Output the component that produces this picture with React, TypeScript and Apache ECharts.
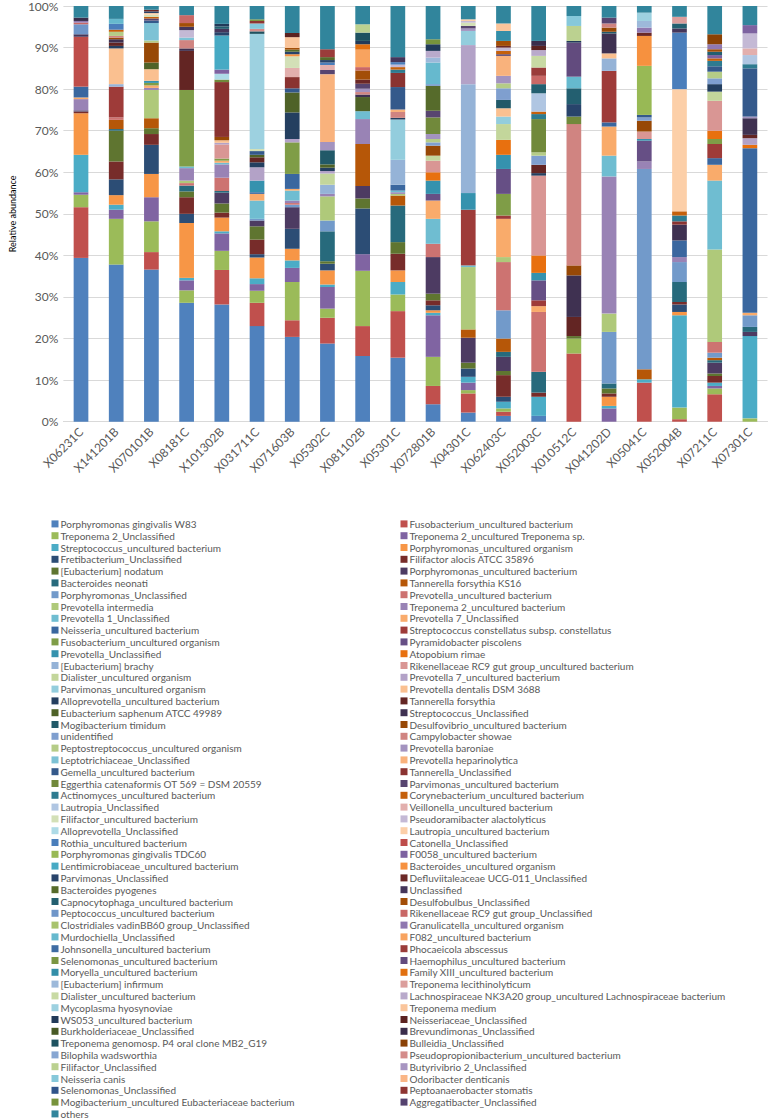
import React, { useEffect, useRef } from "react";
import * as echarts from "echarts";

// ---------- categories ----------
const SAMPLES = [
  "X06231C", "X141201B", "X070101B", "X08181C", "X101302B", "X031711C", "X071603B",
  "X05302C", "X081102B", "X05301C", "X072801B", "X04301C", "X062403C", "X052003C",
  "X010512C", "X041202D", "X05041C", "X052004B", "X07211C", "X07301C",
];

// ---------- series names (stack order, bottom to top) ----------
const TAXA = [
  "Porphyromonas gingivalis W83", "Fusobacterium_uncultured bacterium",
  "Treponema 2_Unclassified", "Treponema 2_uncultured Treponema sp.",
  "Streptococcus_uncultured bacterium", "Porphyromonas_uncultured organism",
  "Fretibacterium_Unclassified", "Filifactor alocis ATCC 35896",
  "[Eubacterium] nodatum", "Porphyromonas_uncultured bacterium",
  "Bacteroides neonati", "Tannerella forsythia KS16",
  "Porphyromonas_Unclassified", "Prevotella_uncultured bacterium",
  "Prevotella intermedia", "Treponema 2_uncultured bacterium",
  "Prevotella 1_Unclassified", "Prevotella 7_Unclassified",
  "Neisseria_uncultured bacterium", "Streptococcus constellatus subsp. constellatus",
  "Fusobacterium_uncultured organism", "Pyramidobacter piscolens",
  "Prevotella_Unclassified", "Atopobium rimae",
  "[Eubacterium] brachy", "Rikenellaceae RC9 gut group_uncultured bacterium",
  "Dialister_uncultured organism", "Prevotella 7_uncultured bacterium",
  "Parvimonas_uncultured organism", "Prevotella dentalis DSM 3688",
  "Alloprevotella_uncultured bacterium", "Tannerella forsythia",
  "Eubacterium saphenum ATCC 49989", "Streptococcus_Unclassified",
  "Mogibacterium timidum", "Desulfovibrio_uncultured bacterium",
  "unidentified", "Campylobacter showae",
  "Peptostreptococcus_uncultured organism", "Prevotella baroniae",
  "Leptotrichiaceae_Unclassified", "Prevotella heparinolytica",
  "Gemella_uncultured bacterium", "Tannerella_Unclassified",
  "Eggerthia catenaformis OT 569 = DSM 20559", "Parvimonas_uncultured bacterium",
  "Actinomyces_uncultured bacterium", "Corynebacterium_uncultured bacterium",
  "Lautropia_Unclassified", "Veillonella_uncultured bacterium",
  "Filifactor_uncultured bacterium", "Pseudoramibacter alactolyticus",
  "Alloprevotella_Unclassified", "Lautropia_uncultured bacterium",
  "Rothia_uncultured bacterium", "Catonella_Unclassified",
  "Porphyromonas gingivalis TDC60", "F0058_uncultured bacterium",
  "Lentimicrobiaceae_uncultured bacterium", "Bacteroides_uncultured organism",
  "Parvimonas_Unclassified", "Defluviitaleaceae UCG-011_Unclassified",
  "Bacteroides pyogenes", "Unclassified",
  "Capnocytophaga_uncultured bacterium", "Desulfobulbus_Unclassified",
  "Peptococcus_uncultured bacterium", "Rikenellaceae RC9 gut group_Unclassified",
  "Clostridiales vadinBB60 group_Unclassified", "Granulicatella_uncultured organism",
  "Murdochiella_Unclassified", "F082_uncultured bacterium",
  "Johnsonella_uncultured bacterium", "Phocaeicola abscessus",
  "Selenomonas_uncultured bacterium", "Haemophilus_uncultured bacterium",
  "Moryella_uncultured bacterium", "Family XIII_uncultured bacterium",
  "[Eubacterium] infirmum", "Treponema lecithinolyticum",
  "Dialister_uncultured bacterium", "Lachnospiraceae NK3A20 group_uncultured Lachnospiraceae bacterium",
  "Mycoplasma hyosynoviae", "Treponema medium",
  "WS053_uncultured bacterium", "Neisseriaceae_Unclassified",
  "Burkholderiaceae_Unclassified", "Brevundimonas_Unclassified",
  "Treponema genomosp. P4 oral clone MB2_G19", "Bulleidia_Unclassified",
  "Bilophila wadsworthia", "Pseudopropionibacterium_uncultured bacterium",
  "Filifactor_Unclassified", "Butyrivibrio 2_Unclassified",
  "Neisseria canis", "Odoribacter denticanis",
  "Selenomonas_Unclassified", "Peptoanaerobacter stomatis",
  "Mogibacterium_uncultured Eubacteriaceae bacterium", "Aggregatibacter_Unclassified",
  "others",
];

// ---------- per-sample abundances: [taxon number (1-based), % ] ----------
const S_X06231C = [[1,39.4],[2,12.2],[3,3.0],[4,0.6],[5,9.0],[6,10.0],[8,0.4],[10,0.3],[16,2.7],[18,0.4],[19,2.6],[56,12.0],[64,0.6],[67,2.4],[68,0.4],[70,0.4],[88,0.8],[101,2.8]];
const S_X141201B = [[1,37.8],[3,11.0],[4,2.2],[5,1.2],[6,2.3],[7,3.8],[8,4.3],[9,7.4],[11,0.4],[12,2.2],[14,0.6],[20,7.4],[25,0.6],[30,8.6],[31,0.6],[32,0.8],[34,0.8],[36,0.4],[38,0.4],[39,1.0],[48,0.5],[55,1.4],[71,1.2],[101,3.1]];
const S_X070101B = [[1,36.6],[2,4.2],[3,7.4],[4,5.8],[6,5.6],[7,7.0],[8,2.6],[9,1.4],[12,2.4],[15,6.8],[16,0.5],[18,0.6],[21,0.6],[23,0.5],[30,2.8],[33,1.6],[36,4.8],[39,0.5],[41,4.2],[43,0.6],[46,0.5],[48,0.4],[51,0.5],[54,0.4],[61,0.4],[62,0.4],[101,0.9]];
const S_X08181C = [[1,28.6],[3,3.0],[4,2.4],[5,0.6],[6,13.2],[7,2.2],[8,4.0],[9,1.4],[11,1.4],[14,0.6],[15,0.6],[16,3.0],[17,0.4],[21,18.4],[32,9.4],[34,0.6],[38,2.0],[41,0.6],[52,1.8],[64,0.8],[66,0.9],[68,1.9],[101,2.2]];
const S_X101302B = [[1,28.2],[2,8.3],[3,4.6],[4,4.2],[5,0.5],[6,3.3],[8,1.2],[9,2.2],[10,2.6],[11,0.4],[14,3.2],[16,3.2],[17,0.4],[18,0.5],[21,0.5],[26,3.4],[28,0.4],[30,0.6],[36,0.8],[44,13.2],[45,0.6],[53,1.4],[58,1.0],[59,8.2],[61,0.8],[64,0.8],[65,0.6],[85,0.6],[101,4.3]];
const S_X031711C = [[1,23.0],[2,5.6],[3,2.9],[4,1.6],[5,1.4],[6,5.0],[7,0.8],[8,3.5],[9,3.2],[10,1.4],[13,0.4],[17,4.4],[18,1.6],[19,0.4],[23,2.8],[28,3.2],[31,1.2],[32,1.2],[33,0.6],[43,0.9],[51,0.5],[83,27.7],[89,0.6],[92,0.6],[95,1.3],[98,0.6],[99,0.4],[101,3.2]];
const S_X071603B = [[1,20.4],[2,4.0],[3,9.2],[4,3.4],[5,1.8],[6,2.8],[7,4.8],[10,5.2],[13,0.6],[14,0.4],[16,0.6],[17,2.4],[18,0.4],[19,3.6],[21,7.6],[28,0.8],[31,6.4],[33,4.8],[43,1.0],[44,2.7],[50,2.2],[51,2.8],[60,0.5],[61,0.6],[63,0.5],[66,0.4],[84,2.6],[86,1.0],[101,6.5]];
const S_X05302C = [[1,18.8],[2,6.2],[3,2.2],[4,5.2],[5,0.6],[6,3.4],[7,1.6],[9,0.6],[11,7.2],[13,2.6],[15,5.8],[16,0.6],[25,2.2],[27,2.7],[28,0.6],[31,0.8],[33,0.8],[35,3.4],[40,2.0],[42,16.3],[46,1.0],[50,1.2],[55,0.6],[61,0.6],[63,0.7],[74,1.9],[101,10.4]];
const S_X081102B = [[1,15.8],[2,7.2],[3,13.3],[4,4.0],[7,11.0],[9,2.4],[10,3.0],[12,10.1],[16,6.0],[17,1.9],[33,3.4],[34,0.6],[38,0.6],[40,0.8],[46,1.2],[62,1.0],[66,2.2],[68,0.8],[72,4.2],[78,1.3],[85,0.8],[89,2.0],[93,2.0],[101,4.4]];
const S_X05301C = [[1,15.4],[2,11.2],[3,4.0],[5,3.0],[6,2.8],[8,4.0],[9,2.8],[11,8.8],[12,2.4],[15,0.4],[16,0.4],[17,0.4],[19,1.4],[25,6.0],[29,9.7],[31,0.4],[38,1.4],[42,0.6],[43,5.4],[44,3.4],[47,0.8],[48,0.6],[52,0.6],[55,0.6],[64,1.2],[101,12.3]];
const S_X072801B = [[1,4.2],[2,4.4],[3,7.0],[4,10.0],[5,0.6],[6,0.6],[7,1.2],[8,1.2],[9,1.6],[10,8.8],[14,3.2],[17,6.0],[18,4.4],[22,1.6],[23,3.2],[24,2.0],[26,2.8],[27,1.2],[36,2.4],[37,0.8],[39,0.8],[40,1.2],[45,4.0],[46,1.6],[63,6.0],[67,0.4],[71,5.2],[79,1.2],[82,1.6],[85,1.6],[99,1.2],[101,8.0]];
const S_X04301C = [[1,2.2],[2,4.6],[3,0.8],[4,1.8],[5,1.4],[7,2.0],[9,1.4],[10,6.0],[12,2.0],[15,15.0],[17,0.4],[20,13.4],[23,4.0],[25,26.2],[28,9.4],[29,3.4],[40,0.6],[46,0.6],[51,0.8],[52,0.4],[54,0.4],[101,3.2]];
const S_X062403C = [[1,1.4],[2,1.0],[3,0.8],[5,1.6],[7,1.2],[8,5.2],[9,1.0],[10,3.4],[11,1.2],[12,3.2],[13,6.8],[14,11.6],[15,1.2],[18,9.2],[20,0.8],[21,5.2],[22,6.0],[23,3.4],[24,3.6],[27,3.8],[29,1.8],[30,2.0],[35,2.0],[37,2.8],[39,1.2],[40,1.8],[42,4.8],[46,0.4],[48,0.8],[52,0.8],[62,0.4],[66,1.2],[77,2.4],[84,1.8],[101,4.2]];
const S_X052003C = [[1,1.4],[5,4.6],[8,1.0],[11,5.0],[14,14.4],[18,1.4],[20,1.4],[22,4.8],[23,1.8],[24,4.2],[26,19.2],[31,0.6],[32,2.0],[37,2.2],[39,0.8],[45,8.0],[47,1.2],[48,0.6],[49,4.4],[65,2.2],[68,2.0],[74,2.0],[81,2.8],[82,1.4],[86,1.0],[88,1.2],[101,8.4]];
const S_X010512C = [[2,16.4],[3,3.6],[9,0.6],[32,4.6],[34,10.0],[36,2.4],[38,34.0],[45,1.8],[61,3.0],[65,3.8],[71,2.8],[76,8.2],[85,0.4],[93,3.6],[95,2.4],[101,2.4]];
const S_X041202D = [[4,3.2],[5,0.6],[6,2.2],[8,0.8],[9,1.2],[11,1.2],[13,12.4],[15,4.4],[16,33.0],[17,5.0],[18,7.0],[19,1.0],[20,12.4],[25,3.0],[30,1.2],[34,4.8],[35,0.4],[36,1.0],[38,1.0],[46,1.4],[101,2.8]];
const S_X05041C = [[2,9.4],[5,0.8],[12,2.4],[13,48.2],[16,1.8],[22,5.0],[23,0.4],[26,1.8],[36,2.6],[37,0.8],[43,0.6],[57,11.8],[60,7.2],[62,0.8],[70,1.2],[79,1.6],[83,2.0],[101,1.6]];
const S_X052004B = [[2,0.6],[3,2.8],[5,22.2],[6,0.8],[7,1.8],[8,0.6],[11,4.8],[13,4.8],[16,1.2],[19,4.0],[34,3.8],[44,0.8],[47,1.4],[48,1.0],[54,29.4],[55,13.6],[64,1.0],[65,1.2],[80,1.6],[101,2.6]];
const S_X07211C = [[2,6.6],[3,1.4],[4,0.6],[5,0.8],[8,1.6],[9,0.6],[10,2.6],[11,0.6],[12,0.6],[13,1.2],[14,2.6],[15,22.2],[17,16.6],[18,3.8],[19,1.6],[20,3.4],[21,1.2],[24,2.0],[26,7.2],[27,2.2],[31,1.8],[37,1.4],[39,1.6],[43,1.3],[47,1.3],[48,0.6],[58,0.8],[65,0.8],[66,0.6],[70,1.2],[90,2.4],[101,6.8]];
const S_X07301C = [[3,0.8],[5,19.8],[10,1.0],[11,1.2],[13,2.8],[18,0.6],[19,39.6],[24,0.8],[28,1.6],[32,0.8],[34,4.0],[40,0.4],[43,11.6],[47,1.0],[49,2.2],[50,1.6],[52,3.6],[58,2.0],[101,4.6]];

const SEGMENTS = [
  S_X06231C, S_X141201B, S_X070101B, S_X08181C, S_X101302B, S_X031711C, S_X071603B,
  S_X05302C, S_X081102B, S_X05301C, S_X072801B, S_X04301C, S_X062403C, S_X052003C,
  S_X010512C, S_X041202D, S_X05041C, S_X052004B, S_X07211C, S_X07301C,
];

const Y_TICKS = [0, 10, 20, 30, 40, 50, 60, 70, 80, 90, 100];

// ---------- palette (Office theme shades: blue, red, green, purple, teal, orange) ----------
const PALETTE = [
  ["#4F81BD", "#C0504D", "#9BBB59", "#8064A2", "#4BACC6", "#F79646"],
  ["#2C4D75", "#772C2A", "#5F7530", "#4D3B62", "#276A7C", "#B65708"],
  ["#729ACA", "#CD7371", "#AFC97A", "#9983B5", "#6FBDD1", "#F9AB6B"],
  ["#3A679F", "#9E3B39", "#7F9D47", "#664F85", "#3592AE", "#E8700F"],
  ["#95B3D7", "#D99694", "#C3D69B", "#B3A2C7", "#93CDDD", "#FAC090"],
  ["#243F60", "#632523", "#4F6228", "#3F3151", "#215968", "#974806"],
  ["#7F9FCF", "#D08481", "#B5CC87", "#A393BF", "#7DC2D5", "#F9B27C"],
  ["#34598B", "#8A3331", "#71893B", "#584570", "#2E7B90", "#C5600B"],
  ["#B0C6E2", "#E2AFAD", "#D3E0B7", "#C4B9D5", "#AEDBE7", "#FCCFA8"],
  ["#4A7EBB", "#BE4D4A", "#98B955", "#7D62A0", "#47AAC4", "#F6913F"],
  ["#28446B", "#6C2826", "#566B2B", "#45365A", "#235F70", "#A34E07"],
  ["#6F96C9", "#C96866", "#A8C36E", "#9078B0", "#66B9CE", "#F8A35F"],
  ["#3E6CA3", "#9A3C3A", "#7A9643", "#624B7E", "#338EA8", "#E17010"],
  ["#9DB9DA", "#DB9E9C", "#C8DAA4", "#B9AACB", "#9DD1E0", "#FAC59B"],
  ["#213A59", "#5B2220", "#485A25", "#3A2D4B", "#1E5260", "#8B4205"],
  ["#87A6D2", "#D48C8A", "#BBD190", "#A795C1", "#86C8DA", "#FAB686"],
  ["#30548A", "#8E3532", "#77933C", "#55426F", "#31859C", "#C46009"],
];

const FONT = "Lato, 'Open Sans', 'DejaVu Sans', sans-serif";

export default function App() {
  const ref = useRef<HTMLDivElement>(null);

  useEffect(() => {
    document.body.style.margin = "0";
    if (!ref.current) return;
    const chart = echarts.init(ref.current, undefined, { renderer: "svg" });

    const series = TAXA.map((name, i) => {
      const idx = i + 1;
      const data = SEGMENTS.map((seg) => {
        const hit = seg.find((p) => p[0] === idx);
        return hit ? hit[1] : 0;
      });
      return {
        name,
        type: "bar",
        stack: "total",
        barWidth: 14.7,
        data,
        silent: true,
        itemStyle: { color: PALETTE[Math.floor(i / 6)][i % 6] },
        emphasis: { disabled: true },
      };
    });

    const leftNames = TAXA.filter((_, i) => i % 2 === 0);
    const rightNames = TAXA.filter((_, i) => i % 2 === 1);

    const legendBase = {
      orient: "vertical",
      top: 518,
      height: 612,
      padding: 0,
      itemGap: 0,
      itemWidth: 7,
      itemHeight: 7,
      icon: "rect",
      selectedMode: false,
      textStyle: {
        fontFamily: FONT,
        fontSize: 10,
        lineHeight: 11.8,
        color: "#595959",
        padding: [0, 0, 0, -3],
      },
    };

    chart.setOption({
      animation: false,
      grid: { left: 41.7, right: 0.5, top: 5, bottom: 698.3, containLabel: false },
      legend: [
        { ...legendBase, left: 51.5, data: leftNames },
        { ...legendBase, left: 400.5, data: rightNames },
      ],
      xAxis: {
        type: "category",
        data: SAMPLES,
        axisTick: { show: false },
        axisLine: { lineStyle: { color: "#D9D9D9", width: 1 } },
        axisLabel: {
          interval: 0,
          rotate: 45,
          margin: 8,
          fontFamily: FONT,
          fontSize: 12,
          color: "#595959",
        },
      },
      yAxis: {
        type: "value",
        min: Y_TICKS[0],
        max: Y_TICKS[Y_TICKS.length - 1],
        interval: Y_TICKS[1] - Y_TICKS[0],
        name: "Relative abundance",
        nameLocation: "middle",
        nameGap: 38,
        nameTextStyle: { fontFamily: FONT, fontSize: 9, color: "#000000" },
        axisLine: { show: false },
        axisTick: { show: false },
        axisLabel: {
          formatter: "{value}%",
          margin: 5,
          fontFamily: FONT,
          fontSize: 12,
          color: "#595959",
        },
        splitLine: { lineStyle: { color: "#D9D9D9", width: 1 } },
      },
      series,
    });

    return () => chart.dispose();
  }, []);

  return <div ref={ref} style={{ width: 768, height: 1120 }} />;
}
